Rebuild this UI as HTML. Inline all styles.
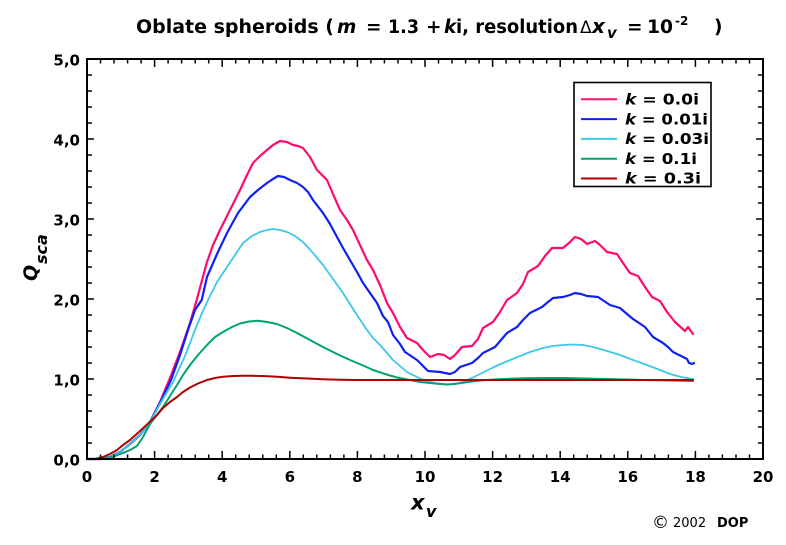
<!DOCTYPE html>
<html>
<head>
<meta charset="utf-8">
<style>
  html,body{margin:0;padding:0;background:#fff;}
  svg{display:block;}
  text{font-family:"DejaVu Sans","Liberation Sans",sans-serif;fill:#000;}
</style>
</head>
<body>
<svg width="786" height="545" viewBox="0 0 786 545" xmlns="http://www.w3.org/2000/svg">
  <rect x="0" y="0" width="786" height="545" fill="#fff"/>

  <!-- Title -->
  <g font-weight="bold" font-size="18.5">
    <text x="136" y="33" textLength="198" lengthAdjust="spacingAndGlyphs">Oblate spheroids (</text>
    <text x="337" y="33" font-style="italic">m</text>
    <text x="366" y="33">=</text>
    <text x="388" y="33" textLength="31" lengthAdjust="spacingAndGlyphs">1.3</text>
    <text x="426" y="33">+</text>
    <text x="444" y="33" font-style="italic">k</text>
    <text x="456" y="33" textLength="122" lengthAdjust="spacingAndGlyphs">i, resolution</text>
    <text x="580" y="33" font-weight="normal" font-size="17">&#916;</text>
    <text x="592" y="33" font-style="italic" font-size="20">x</text>
    <text x="607" y="38" font-style="italic" font-size="15">v</text>
    <text x="627" y="33">=</text>
    <text x="647" y="33" textLength="26" lengthAdjust="spacingAndGlyphs">10</text>
    <text x="675" y="25" font-size="12">-2</text>
    <text x="714" y="33">)</text>
  </g>

  <!-- Series -->
  <g fill="none" stroke-linejoin="round" stroke-linecap="round">
    <polyline stroke="#ff0a6e" stroke-width="2.2" points="87,459 100,459 110,457 120,452 130,444 140,435 150,422 160,402 170,378 180,352 190,323 196.7,300 206.7,263 213,245 220,230 230,210 240,190 247,175 253,163 260,156 267,150 273,145 280,141 287,142 293,145 298,146 303,148 310,157 317,170 327,180 333,194 340,210 347,220 353,230 360,245 367,260 373,270 380,285 387,303 393,313 400,327 407,338 417,343 423,350 430,357 438,354 444,355 450,359 455,355 462,347 472,346 478,339 483,328 493,322 500,312 507,300 517,293 523,284 528,272 538,266 545,256 552,248 563,248 569,243 575,237 581,239 587,244 595,241 600,245 607,252 617,254 623,263 630,273 638,276 645,287 652,297 660,301 667,312 675,322 685,331 688,327 693,334"/>
    <polyline stroke="#1020f0" stroke-width="2.2" points="87,459 100,459 110,457 120,452 130,444 140,435 150,422 160,403 171,380 180,355 188,330 195,310 201.7,300 207,277 217,254 227,233 238,213 250,197 258,190 267,183 273,179 278,176 284,177 290,180 297,183 303,187 308,192 313,200 323,213 330,224 337,237 343,248 350,260 357,272 363,283 370,293 377,303 383,316 388,322 393,335 400,344 405,352 411,356 417,360 422,365 428,371 440,372 450,374 455,372 460,367 472,363 478,358 483,353 495,347 501,340 507,333 517,327 523,320 530,313 542,307 548,302 553,298 563,297 570,295 575,293 581,294 587,296 598,297 604,301 610,305 620,308 627,314 633,319 645,327 653,337 663,343 668,347 673,352 683,357 687,359 689,363 692,364 694,363"/>
    <polyline stroke="#3cc8e6" stroke-width="1.8" points="87,459 100,459 110,457 120,452 130,444 140,435 150,422 160,404 173,382 185,356 195,330 202,313 208,300 217,282 227,267 235,255 243,243 252,236 260,232 267,230 273,229 280,230 287,232 295,236 303,242 313,253 323,265 333,279 343,293 355,312 367,330 373,338 380,345 387,353 393,360 400,366 407,372 415,376 423,380 435,383 447,384.5 455,384 463,382 472,378 480,374 492,368 503,363 515,358 530,352 543,348 553,346 563,345 573,344.5 583,345 593,347 607,351 620,355 633,360 647,365 660,370 670,374 681,377 693,379"/>
    <polyline stroke="#00a273" stroke-width="2" points="87,459 100,459 106.7,458.3 115,456 123,453 130,450 137,446 143,437 150,424 157,415 163,407 170,396 177,385 183,375 190,365 198,355 207,345 215,337 223,332 232,327 240,323.5 249,321.5 258,320.7 267,322 277,324 287,328 297,333 310,340 323,347 337,354 350,360 362,365 373,370 385,374 397,377.5 410,380 420,382 430,383 440,384 448,384.5 458,383.5 468,382 480,380.5 495,379.5 510,378.8 525,378.3 545,378 565,378 585,378.5 605,379 625,379.5 645,380 670,380.5 693,381"/>
    <polyline stroke="#b00000" stroke-width="2" points="87,459 95,459 103,457 110,454 117,450 123,445 130,440 140,431 150,421.7 157,415 163,408 170,402 177,397 183,392 190,387.5 198,383.5 207,380 215,378 223,376.7 233,376 243,375.7 253,375.8 263,376 277,376.8 290,377.7 307,378.5 323,379.3 340,379.7 357,380 400,380 450,380 500,380 550,380 600,380 650,380 693,380"/>
  </g>

  <!-- Frame -->
  <rect x="87" y="59" width="676" height="400" fill="none" stroke="#000" stroke-width="2"/>

  <!-- Ticks -->
  <g stroke="#000" stroke-width="1.5" fill="none">
    <path d="M100.5 459v-4.5M114 459v-4.5M127.6 459v-4.5M141.1 459v-4.5M168.1 459v-4.5M181.6 459v-4.5M195.2 459v-4.5M208.7 459v-4.5M235.7 459v-4.5M249.2 459v-4.5M262.8 459v-4.5M276.3 459v-4.5M303.3 459v-4.5M316.8 459v-4.5M330.4 459v-4.5M343.9 459v-4.5M370.9 459v-4.5M384.4 459v-4.5M398 459v-4.5M411.5 459v-4.5M438.5 459v-4.5M452 459v-4.5M465.6 459v-4.5M479.1 459v-4.5M506.1 459v-4.5M519.6 459v-4.5M533.2 459v-4.5M546.7 459v-4.5M573.7 459v-4.5M587.2 459v-4.5M600.8 459v-4.5M614.3 459v-4.5M641.3 459v-4.5M654.8 459v-4.5M668.4 459v-4.5M681.9 459v-4.5M708.9 459v-4.5M722.4 459v-4.5M736 459v-4.5M749.5 459v-4.5"/>
    <path d="M154.6 459v-8M222.2 459v-8M289.8 459v-8M357.4 459v-8M425 459v-8M492.6 459v-8M560.2 459v-8M627.8 459v-8M695.4 459v-8"/>
    <path d="M100.5 59v4.5M114 59v4.5M127.6 59v4.5M141.1 59v4.5M168.1 59v4.5M181.6 59v4.5M195.2 59v4.5M208.7 59v4.5M235.7 59v4.5M249.2 59v4.5M262.8 59v4.5M276.3 59v4.5M303.3 59v4.5M316.8 59v4.5M330.4 59v4.5M343.9 59v4.5M370.9 59v4.5M384.4 59v4.5M398 59v4.5M411.5 59v4.5M438.5 59v4.5M452 59v4.5M465.6 59v4.5M479.1 59v4.5M506.1 59v4.5M519.6 59v4.5M533.2 59v4.5M546.7 59v4.5M573.7 59v4.5M587.2 59v4.5M600.8 59v4.5M614.3 59v4.5M641.3 59v4.5M654.8 59v4.5M668.4 59v4.5M681.9 59v4.5M708.9 59v4.5M722.4 59v4.5M736 59v4.5M749.5 59v4.5"/>
    <path d="M154.6 59v8M222.2 59v8M289.8 59v8M357.4 59v8M425 59v8M492.6 59v8M560.2 59v8M627.8 59v8M695.4 59v8"/>
    <path d="M87 75h5M87 91h5M87 107h5M87 123h5M87 155h5M87 171h5M87 187h5M87 203h5M87 235h5M87 251h5M87 267h5M87 283h5M87 315h5M87 331h5M87 347h5M87 363h5M87 395h5M87 411h5M87 427h5M87 443h5"/>
    <path d="M87 139h7M87 219h7M87 299h7M87 379h7"/>
    <path d="M763 75h-5M763 91h-5M763 107h-5M763 123h-5M763 155h-5M763 171h-5M763 187h-5M763 203h-5M763 235h-5M763 251h-5M763 267h-5M763 283h-5M763 315h-5M763 331h-5M763 347h-5M763 363h-5M763 395h-5M763 411h-5M763 427h-5M763 443h-5"/>
    <path d="M763 139h-7M763 219h-7M763 299h-7M763 379h-7"/>
  </g>

  <!-- Y tick labels -->
  <g font-weight="bold" font-size="15" text-anchor="end">
    <text x="80" y="65.5">5,0</text>
    <text x="80" y="145.5">4,0</text>
    <text x="80" y="225.5">3,0</text>
    <text x="80" y="305.5">2,0</text>
    <text x="80" y="385.5">1,0</text>
    <text x="80" y="465.5">0,0</text>
  </g>

  <!-- X tick labels -->
  <g font-weight="bold" font-size="15" text-anchor="middle">
    <text x="87" y="482">0</text>
    <text x="154.6" y="482">2</text>
    <text x="222.2" y="482">4</text>
    <text x="289.8" y="482">6</text>
    <text x="357.4" y="482">8</text>
    <text x="425" y="482">10</text>
    <text x="492.6" y="482">12</text>
    <text x="560.2" y="482">14</text>
    <text x="627.8" y="482">16</text>
    <text x="695.4" y="482">18</text>
    <text x="763" y="482">20</text>
  </g>

  <!-- Axis labels -->
  <g font-weight="bold" font-style="italic">
    <text x="411" y="509.5" font-size="21">x</text>
    <text x="426" y="517" font-size="16">v</text>
  </g>
  <g font-weight="bold" font-style="italic" transform="translate(37,281) rotate(-90)">
    <text x="0" y="0" font-size="19">Q</text>
    <text x="17" y="10" font-size="16">sca</text>
  </g>

  <!-- Legend -->
  <rect x="574" y="82.5" width="137" height="104" fill="#fff" stroke="#000" stroke-width="1.6"/>
  <g stroke-width="2">
    <line x1="581" y1="99.3" x2="617" y2="99.3" stroke="#ff0a6e"/>
    <line x1="581" y1="119.1" x2="617" y2="119.1" stroke="#1020f0"/>
    <line x1="581" y1="138.9" x2="617" y2="138.9" stroke="#3cc8e6"/>
    <line x1="581" y1="158.7" x2="617" y2="158.7" stroke="#00a273"/>
    <line x1="581" y1="178.5" x2="617" y2="178.5" stroke="#b00000"/>
  </g>
  <g font-weight="bold" font-size="15">
    <text x="625" y="104.5" textLength="74" lengthAdjust="spacingAndGlyphs"><tspan font-style="italic">k</tspan> = 0.0i</text>
    <text x="625" y="124.3" textLength="83" lengthAdjust="spacingAndGlyphs"><tspan font-style="italic">k</tspan> = 0.01i</text>
    <text x="625" y="144.1" textLength="84" lengthAdjust="spacingAndGlyphs"><tspan font-style="italic">k</tspan> = 0.03i</text>
    <text x="625" y="163.9" textLength="72" lengthAdjust="spacingAndGlyphs"><tspan font-style="italic">k</tspan> = 0.1i</text>
    <text x="625" y="183.7" textLength="76" lengthAdjust="spacingAndGlyphs"><tspan font-style="italic">k</tspan> = 0.3i</text>
  </g>

  <!-- Copyright -->
  <text x="652" y="528" font-size="17">&#169;</text>
  <text x="673" y="527" font-size="13">2002</text>
  <text x="717" y="527" font-size="13" font-weight="bold">DOP</text>
</svg>
</body>
</html>
